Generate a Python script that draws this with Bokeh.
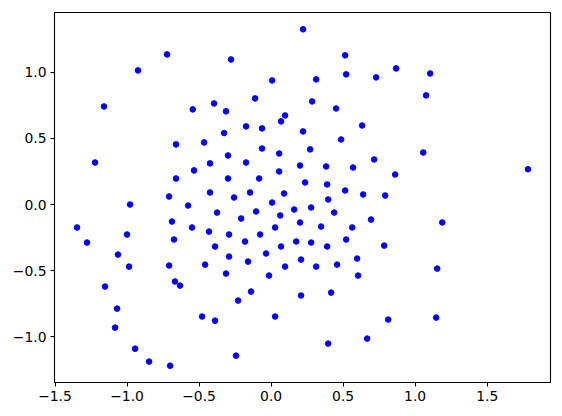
from bokeh.plotting import figure
from bokeh.models import Range1d, FixedTicker
from bokeh.embed import file_html
from bokeh.resources import INLINE

x_vals = [
    -1.160, -0.924, -0.722, -0.544, 0.222, -0.278, 0.007, 0.313, -0.111, 0.285,
    -0.396, -0.313, 0.097, 0.069, -0.174, -0.063, -0.326, 0.222, 0.514, 0.521,
    0.868, 0.729, 1.104, 1.076, 0.451, 0.632,
    -0.660, -1.222, -0.535, -0.660, -0.708, -0.979, -0.576, -0.688, -1.347, -0.549,
    -1.000, -0.674, -1.278,
    -0.465, -0.063, 0.056, 0.271, -0.299, -0.424, -0.174, 0.201, 0.382, 0.056,
    -0.299, -0.083, 0.236, 0.389, -0.424, -0.146, 0.090, -0.257, 0.396, 0.007,
    -0.104, 0.160, 0.278, -0.375, 0.063, -0.208, 0.201, 0.028, 0.347, -0.431,
    -0.292, -0.076, -0.181, 0.174, 0.278, -0.389, 0.069, 0.389, -0.035,
    0.486, 1.056, 0.715, 0.569, 0.861, 0.514, 0.639, 0.792, 0.438, 0.694,
    1.188, 0.563, 0.521, 0.785,
    1.783,
    -1.063, -0.986, -1.153, -1.069, -1.083, -0.944, -0.847, -0.701, -0.708, -0.667,
    -0.632, -0.458, -0.292, -0.313, -0.160, -0.229, -0.139, -0.014, 0.097, 0.208,
    0.313, 0.458, 0.597, 0.604, 0.208, 0.417, -0.479, -0.389, 0.028, -0.243,
    0.396, 0.667, 0.813, 1.153, 1.146,
]
y_vals = [
    0.742, 1.015, 1.136, 0.720, 1.326, 1.098, 0.939, 0.947, 0.803, 0.780,
    0.765, 0.705, 0.674, 0.629, 0.591, 0.576, 0.541, 0.553, 1.129, 0.985,
    1.030, 0.962, 0.992, 0.826, 0.727, 0.598,
    0.455, 0.318, 0.258, 0.197, 0.061, 0.000, -0.008, -0.129, -0.174, -0.174,
    -0.227, -0.265, -0.288,
    0.470, 0.424, 0.386, 0.417, 0.371, 0.311, 0.318, 0.295, 0.288, 0.250,
    0.197, 0.197, 0.167, 0.152, 0.091, 0.091, 0.083, 0.053, 0.038, 0.015,
    -0.053, -0.038, -0.023, -0.061, -0.083, -0.106, -0.136, -0.174, -0.167, -0.205,
    -0.227, -0.227, -0.280, -0.280, -0.288, -0.318, -0.318, -0.318, -0.371,
    0.492, 0.394, 0.341, 0.280, 0.227, 0.106, 0.076, 0.068, -0.061, -0.114,
    -0.136, -0.174, -0.265, -0.311,
    0.267,
    -0.379, -0.470, -0.621, -0.788, -0.932, -1.091, -1.189, -1.220, -0.462, -0.583,
    -0.614, -0.455, -0.394, -0.523, -0.432, -0.727, -0.659, -0.538, -0.470, -0.417,
    -0.470, -0.455, -0.409, -0.538, -0.689, -0.667, -0.848, -0.879, -0.848, -1.144,
    -1.053, -1.015, -0.871, -0.485, -0.856,
]

x_ticks = [-1.5, -1.0, -0.5, 0.0, 0.5, 1.0, 1.5]
x_tick_labels = ["\u22121.5", "\u22121.0", "\u22120.5", "0.0", "0.5", "1.0", "1.5"]
y_ticks = [-1.0, -0.5, 0.0, 0.5, 1.0]
y_tick_labels = ["\u22121.0", "\u22120.5", "0.0", "0.5", "1.0"]

# matplotlib-like 5% margins
xr = max(x_vals) - min(x_vals)
yr = max(y_vals) - min(y_vals)
x_range = Range1d(min(x_vals) - 0.05 * xr, max(x_vals) + 0.05 * xr)
y_range = Range1d(min(y_vals) - 0.05 * yr, max(y_vals) + 0.05 * yr)

p = figure(width=561, height=415, x_range=x_range, y_range=y_range,
           output_backend="svg", toolbar_location=None,
           min_border_left=54, min_border_right=11,
           min_border_top=12, min_border_bottom=33)
p.background_fill_color = "white"
p.border_fill_color = "white"
p.outline_line_color = "black"
p.outline_line_width = 1.1
p.grid.visible = False

p.scatter(x_vals, y_vals, size=5.6, color="#0000ff", line_color="#0000ff",
          line_width=1)

for ax, ticks, labels in ((p.xaxis[0], x_ticks, x_tick_labels),
                          (p.yaxis[0], y_ticks, y_tick_labels)):
    ax.ticker = FixedTicker(ticks=ticks)
    ax.major_label_overrides = {t: l for t, l in zip(ticks, labels)}
    ax.minor_tick_line_color = None
    ax.major_tick_out = 4
    ax.major_tick_in = 0
    ax.major_tick_line_color = "black"
    ax.axis_line_color = "black"
    ax.major_label_text_font = "DejaVu Sans"
    ax.major_label_text_font_size = "13.9px"
    ax.major_label_text_color = "black"
    ax.major_label_standoff = 4

open("out.html", "w").write(file_html(p, INLINE))
